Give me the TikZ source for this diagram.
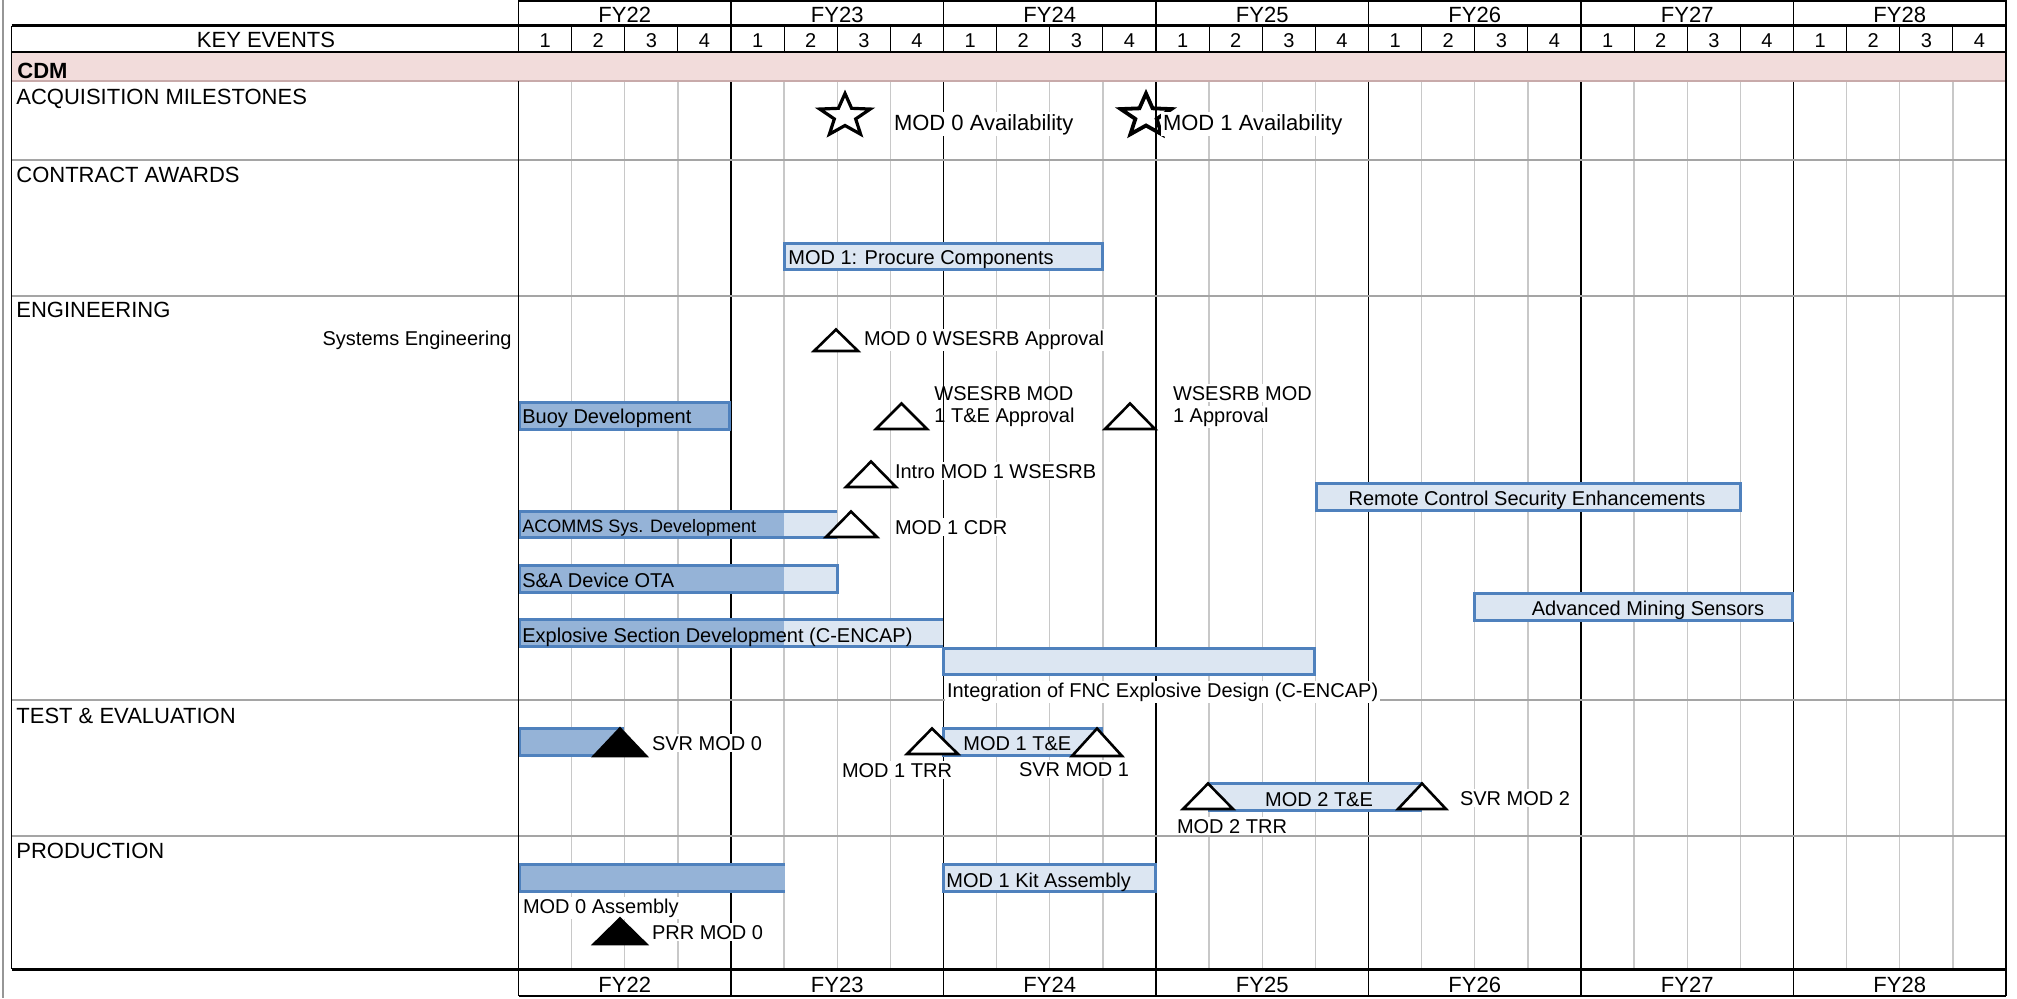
\documentclass[tikz,border=0pt]{standalone}
\usepackage{fontspec}
\setmainfont{Liberation Sans}
\definecolor{barblue}{RGB}{79,129,189}
\definecolor{bardark}{RGB}{149,179,215}
\definecolor{barlight}{RGB}{220,230,242}
\definecolor{cdmpink}{RGB}{242,220,219}
\definecolor{cdmedge}{RGB}{200,170,170}
\definecolor{gridgray}{RGB}{200,200,200}
\definecolor{sepgray}{RGB}{165,165,165}
\definecolor{framegray}{RGB}{150,150,150}
\newcommand{\fsL}{\fontsize{11}{13}\selectfont}
\newcommand{\fsM}{\fontsize{10}{12}\selectfont}
\newcommand{\fsS}{\fontsize{9}{11}\selectfont}
\begin{document}
\begin{tikzpicture}[x=0.5pt,y=-0.5pt,
  gridq/.style={draw=gridgray, line width=0.7pt},
  hdrq/.style={draw=black, line width=0.5pt},
  yearln/.style={draw=black, line width=0.8pt},
  sepln/.style={draw=sepgray, line width=1pt},
  barframe/.style={draw=barblue, line width=1.5pt},
  tri/.style={draw=black, fill=white, line width=1.3pt},
  trib/.style={draw=black, fill=black, line width=1.3pt},
  starsty/.style={draw=black, line width=1.6pt},
  lbl/.style={font=\fsM, fill=white, inner sep=0.8pt, anchor=base west},
  lblnf/.style={font=\fsM, inner sep=0pt, anchor=base west},
  sect/.style={font=\fsL, inner sep=0pt, anchor=base west},
  hdr/.style={font=\fsL, inner sep=0pt, anchor=base},
  qnum/.style={font=\fsM, inner sep=0pt, anchor=base},
]
\useasboundingbox (0,0) rectangle (2017,998);
\fill[white] (0,0) rectangle (2017,998);

% ---------- grid ----------
\foreach \i in {1,...,27}{
  \pgfmathsetmacro{\xq}{518.5+53.125*\i}
  \draw[gridq] (\xq,81) -- (\xq,969);
  \draw[hdrq] (\xq,27) -- (\xq,52);
}
\foreach \i in {0,...,7}{
  \pgfmathsetmacro{\xy}{518.5+212.5*\i}
  \draw[yearln] (\xy,0) -- (\xy,996);
}
% section separators
\foreach \yy in {160,296,700,836}{
  \draw[sepln] (11.5,\yy) -- (2006,\yy);
}
% CDM row
\fill[cdmpink] (11.5,52) rectangle (2006,81);
\draw[cdmedge, line width=0.6pt] (11.5,81) -- (2006,81);
% header / footer horizontal lines
\draw[black, line width=0.6pt] (518.5,1) -- (2006,1);
\draw[black, line width=1.5pt] (11.5,25.5) -- (2006,25.5);
\draw[black, line width=0.6pt] (11.5,52) -- (2006,52);
\draw[black, line width=1.5pt] (11.5,969) -- (2006,969);
\draw[black, line width=0.6pt] (518.5,996) -- (2006,996);
% borders
\draw[black, line width=0.6pt] (11.5,25.5) -- (11.5,969);
\draw[black, line width=0.8pt] (2006,0) -- (2006,996);
\draw[framegray, line width=0.6pt] (3,0) -- (3,998);

% ---------- header text ----------
\node[hdr] (keyev) at (266,47) {KEY EVENTS};
\foreach \n [count=\c from 0] in {22,...,28}{
  \node[hdr] (fy\n) at ({518.5+212.5*(\c+0.5)},22.5) {FY\n};
  \node[hdr] (fyb\n) at ({518.5+212.5*(\c+0.5)},992) {FY\n};
}
\foreach \yr in {0,...,6}{
  \foreach \q in {1,...,4}{
    \node[qnum] (q\yr\q) at ({518.5+212.5*\yr+53.125*(\q-0.5)},47) {\q};
  }
}

% ---------- section labels ----------
\node[sect, font=\fsL\bfseries] (cdm) at (17,78) {CDM};
\node[sect] (acq) at (16,104) {ACQUISITION MILESTONES};
\node[sect] (con) at (16,182) {CONTRACT AWARDS};
\node[sect] (eng) at (16,317) {ENGINEERING};
\node[sect] (tne) at (16,723) {TEST \& EVALUATION};
\node[sect] (prd) at (16,858) {PRODUCTION};
\node[font=\fsM, inner sep=0pt, anchor=base east] (syseng) at (512,345) {Systems Engineering};

% ---------- bars ----------
% Procure
\fill[barlight] (784.5,243.5) rectangle (1102.5,269.5);
\draw[barframe] (784.5,243.5) rectangle (1102.5,269.5);
% Buoy
\fill[bardark] (519.5,402.5) rectangle (729.5,429.5);
\draw[barframe] (519.5,402.5) rectangle (729.5,429.5);
% Remote control
\fill[barlight] (1316.5,483.5) rectangle (1740.5,510.5);
\draw[barframe] (1316.5,483.5) rectangle (1740.5,510.5);
% ACOMMS
\fill[bardark] (519.5,511.5) rectangle (783.5,537.5);
\fill[barlight] (783.5,511.5) rectangle (837,537.5);
\draw[barframe] (837,511.5) -- (519.5,511.5) -- (519.5,537.5) -- (837,537.5);
% S&A
\fill[bardark] (519.5,565.5) rectangle (783.5,592.5);
\fill[barlight] (783.5,565.5) rectangle (837.5,592.5);
\draw[barframe] (519.5,565.5) rectangle (837.5,592.5);
% Advanced mining
\fill[barlight] (1474.5,593.5) rectangle (1792.5,620.5);
\draw[barframe] (1474.5,593.5) rectangle (1792.5,620.5);
% Explosive section
\fill[bardark] (519.5,619.5) rectangle (783.5,646.5);
\fill[barlight] (783.5,619.5) rectangle (943,646.5);
\draw[barframe] (943,619.5) -- (519.5,619.5) -- (519.5,646.5) -- (943,646.5);
% Integration
\fill[barlight] (943.5,648.5) rectangle (1314.5,674.5);
\draw[barframe] (943.5,648.5) rectangle (1314.5,674.5);
% T&E MOD 0
\fill[bardark] (519.5,728.5) rectangle (624,755.5);
\draw[barframe] (624,728.5) -- (519.5,728.5) -- (519.5,755.5) -- (624,755.5);
% MOD 1 T&E
\fill[barlight] (943.5,728.5) rectangle (1101.5,755.5);
\draw[barframe] (943.5,728.5) rectangle (1101.5,755.5);
% MOD 2 T&E
\fill[barlight] (1209.5,783.5) rectangle (1420.5,810.5);
\draw[barframe] (1209.5,783.5) rectangle (1420.5,810.5);
% Production MOD 0
\fill[bardark] (519.5,864.5) rectangle (784.5,891.5);
\draw[barframe] (784.5,864.5) -- (519.5,864.5) -- (519.5,891.5) -- (784.5,891.5);
% Kit assembly
\fill[barlight] (943.5,864.5) rectangle (1155.5,891.5);
\draw[barframe] (943.5,864.5) rectangle (1155.5,891.5);
% column edge over bars
\draw[yearln] (518.5,81) -- (518.5,969);

% ---------- bar texts ----------
\node[lblnf] (tprocure) at (788,264) {MOD 1: Procure Components};
\node[lblnf] (tbuoy) at (522,423) {Buoy Development};
\node[lblnf, anchor=base] (tremote) at (1527,505) {Remote Control Security Enhancements};
\node[lblnf, font=\fsS] (tacomms) at (522,532) {ACOMMS Sys. Development};
\node[lblnf] (tsa) at (522,587) {S\&A Device OTA};
\node[lblnf, anchor=base] (tadv) at (1648,615) {Advanced Mining Sensors};
\node[lblnf] (texpl) at (522,642) {Explosive Section Development (C-ENCAP)};
\node[lbl] (tinteg) at (945,697) {Integration of FNC Explosive Design (C-ENCAP)};
\node[lblnf] (tmod1te) at (963,750) {MOD 1 T\&E};
\node[lblnf, anchor=base] (tmod2te) at (1319,806) {MOD 2 T\&E};
\node[lblnf] (tkit) at (946,887) {MOD 1 Kit Assembly};
\node[lbl] (tmod0asm) at (521,913) {MOD 0 Assembly};

% ---------- stars ----------
\begin{scope}[shift={(845,116)}, xscale=1.18]
  \draw[starsty, fill=white] (-90:22.5) -- (-54:9.5) -- (-18:22.5) -- (18:9.5) -- (54:22.5) -- (90:9.5) -- (126:22.5) -- (162:9.5) -- (198:22.5) -- (234:9.5) -- cycle;
\end{scope}
\begin{scope}[shift={(1146,116)}, xscale=1.18]
  \draw[starsty, line width=1.9pt] (-90:22.5) -- (-54:9.5) -- (-18:22.5) -- (18:9.5) -- (54:22.5) -- (90:9.5) -- (126:22.5) -- (162:9.5) -- (198:22.5) -- (234:9.5) -- cycle;
\end{scope}
\node[lbl, font=\fsL] (mod0av) at (892,130) {MOD 0 Availability};
\node[lbl, font=\fsL] (mod1av) at (1161,130) {MOD 1 Availability};

% ---------- triangles ----------
\draw[tri] (836,329.5) -- (858,351) -- (814,351) -- cycle;
\draw[tri] (901.5,403.5) -- (927,429) -- (876,429) -- cycle;
\draw[tri] (1130,403.5) -- (1155,429) -- (1105,429) -- cycle;
\draw[tri] (871,461.5) -- (896,487) -- (846,487) -- cycle;
\draw[tri] (851,511.5) -- (877,537) -- (826,537) -- cycle;
\draw[trib] (620,728.5) -- (646,756) -- (594,756) -- cycle;
\draw[tri] (932,728.5) -- (958,754) -- (907,754) -- cycle;
\draw[tri] (1097,728.5) -- (1122,756) -- (1072,756) -- cycle;
\draw[tri] (1208,783.5) -- (1233,809) -- (1183,809) -- cycle;
\draw[tri] (1422,783.5) -- (1446,809) -- (1398,809) -- cycle;
\draw[trib] (620,918.5) -- (646,944) -- (594,944) -- cycle;

% ---------- milestone labels ----------
\node[lbl] (lwsesrb0) at (862,345) {MOD 0 WSESRB Approval};
\node[lblnf] (lwte1) at (934,400) {WSESRB MOD};
\node[lblnf] (lwte2) at (934,422) {1 T\&E Approval};
\node[lbl] (lwap1) at (1171,400) {WSESRB MOD};
\node[lbl] (lwap2) at (1171,422) {1 Approval};
\node[lbl] (lintro) at (893,478) {Intro MOD 1 WSESRB};
\node[lbl] (lcdr) at (893,534) {MOD 1 CDR};
\node[lbl] (lsvr0) at (650,750) {SVR MOD 0};
\node[lbl] (ltrr1) at (840,777) {MOD 1 TRR};
\node[lbl] (lsvr1) at (1017,776) {SVR MOD 1};
\node[lbl] (ltrr2) at (1175,833) {MOD 2 TRR};
\node[lbl] (lsvr2) at (1458,805) {SVR MOD 2};
\node[lbl] (lprr0) at (650,939) {PRR MOD 0};
\end{tikzpicture}
\end{document}
